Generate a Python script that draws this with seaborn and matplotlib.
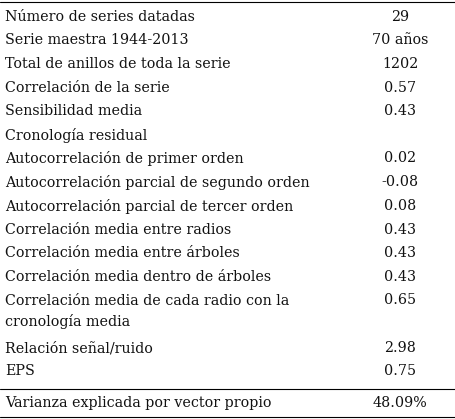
import matplotlib
matplotlib.use("Agg")
import matplotlib.pyplot as plt
import seaborn as sns

sns.set_style("white")
plt.rcParams['font.family'] = ['DejaVu Serif']

labels = ["Número de series datadas", "Serie maestra 1944-2013", "Total de anillos de toda la serie",
          "Correlación de la serie", "Sensibilidad media", "Cronología residual",
          "Autocorrelación de primer orden", "Autocorrelación parcial de segundo orden",
          "Autocorrelación parcial de tercer orden", "Correlación media entre radios",
          "Correlación media entre árboles", "Correlación media dentro de árboles",
          "Correlación media de cada radio con la\ncronología media", "Relación señal/ruido", "EPS",
          "Varianza explicada por vector propio"]
values = ["29", "70 años", "1202", "0.57", "0.43", "", "0.02", "-0.08", "0.08", "0.43",
          "0.43", "0.43", "0.65", "2.98", "0.75", "48.09%"]
row_y = [17, 40, 64, 88, 111, 135, 158, 182, 206, 230, 253, 277, 300, 348, 371, 403]

W, H = 455, 419
fig = plt.figure(figsize=(W/100, H/100), dpi=100)
ax = fig.add_axes([0, 0, 1, 1])
ax.set_xlim(0, W); ax.set_ylim(H, 0); ax.axis("off")

fs = 10.3
for lab, val, y in zip(labels, values, row_y):
    if "\n" in lab:
        ax.text(5, y + 11.5, lab, fontsize=fs, va="center", ha="left", linespacing=1.55, color="#111")
    else:
        ax.text(5, y, lab, fontsize=fs, va="center", ha="left", color="#111")
    ax.text(400, y, val, fontsize=fs, va="center", ha="center", color="#111")

for y in [2, 389, 417]:
    ax.plot([0, W], [y, y], color="black", lw=0.8)

fig.savefig("out.png", dpi=100)
